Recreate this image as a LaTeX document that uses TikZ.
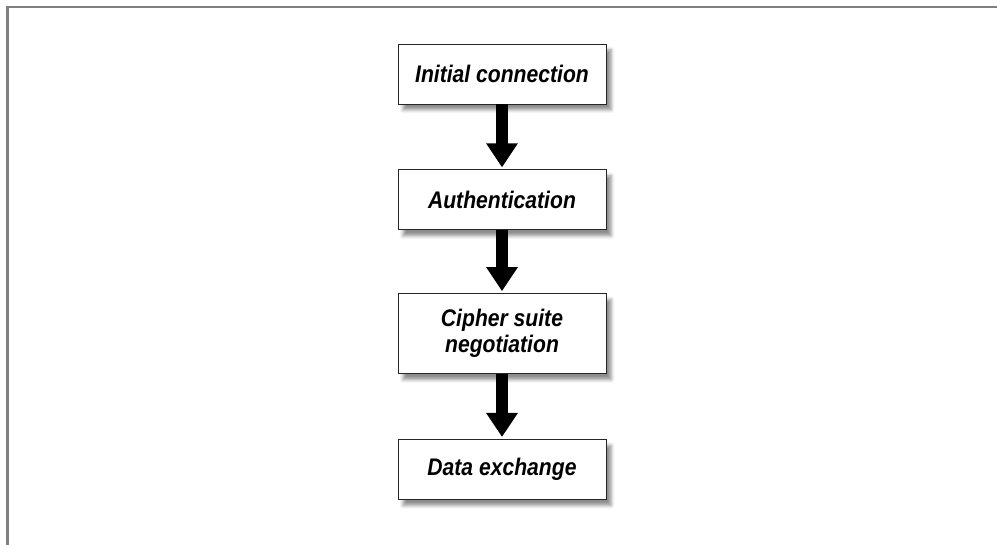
\documentclass[tikz,border=0pt]{standalone}
\usepackage{fontspec}
\setmainfont{Liberation Sans}[FakeStretch=0.88]
\usetikzlibrary{positioning, arrows.meta, shadows.blur}

\begin{document}
\begin{tikzpicture}[x = 1pt, y = 1pt,
    stage/.style = {draw = black!85, line width = .8pt, fill = white, minimum width = 208pt, minimum height = 60pt,
      align = center, font = \fontsize{24}{26}\selectfont\bfseries\itshape,
      blur shadow = {shadow xshift = 5pt, shadow yshift = -6pt, shadow blur radius = 3.5pt, shadow opacity = 45}},
    flow/.style = {line width = 12pt, shorten > = 2pt, -{Triangle[width = 30pt, length = 24pt]}}]

    \useasboundingbox (0,0) rectangle (997,545);
    \draw [black!50, line width = 2.5pt] (7.5,0) -- (7.5,538) -- (997,538);

    \node [stage] (initial) at (502,471) {Initial connection};
    \node [stage, below = 65pt of initial] (auth) {Authentication};
    \node [stage, minimum height = 80pt, below = 63pt of auth] (cipher) {Cipher suite\\negotiation};
    \node [stage, below = 65pt of cipher] (data) {Data exchange};

    \draw [flow] (initial) -- (auth);
    \draw [flow] (auth) -- (cipher);
    \draw [flow] (cipher) -- (data);
    \end{tikzpicture}
\end{document}
